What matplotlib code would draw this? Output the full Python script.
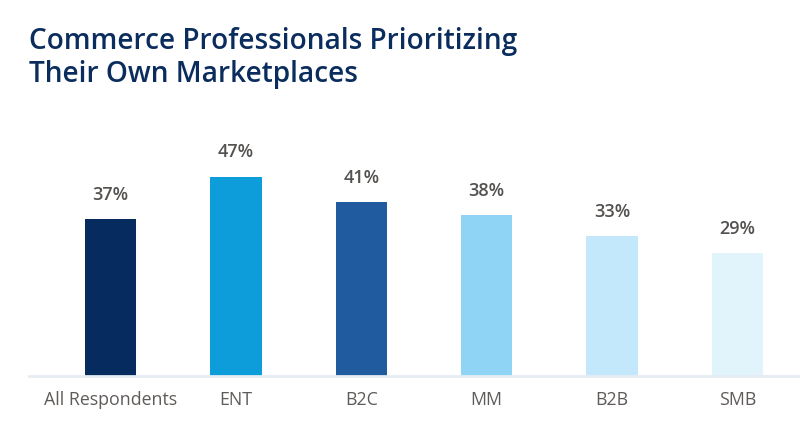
import matplotlib
matplotlib.use("Agg")
import matplotlib.pyplot as plt

categories = ["All Respondents", "ENT", "B2C", "MM", "B2B", "SMB"]
values = [37, 47, 41, 38, 33, 29]
labels = ["37%", "47%", "41%", "38%", "33%", "29%"]
colors = ["#062c5f", "#0e9ddb", "#1f5b9e", "#8fd3f5", "#c3e7fb", "#e1f4fc"]

plt.rcParams['font.family'] = ['Open Sans', 'DejaVu Sans']

fig = plt.figure(figsize=(8, 4.33), dpi=100)
ax = fig.add_axes([29/800, 1 - 376/433, 771/800, (376 - 121.6)/433])

x = list(range(len(categories)))
ax.bar(x, values, width=0.41, color=colors, zorder=2)
for xi, v, lab in zip(x, values, labels):
    ax.annotate(lab, (xi, v), xytext=(0, 11), textcoords="offset points",
                ha="center", va="bottom", fontsize=13, fontweight="semibold",
                color="#54514f")

ax.set_xlim(-0.65, 5.5)
ax.set_ylim(0, 60)
ax.set_xticks(x)
ax.set_xticklabels(categories, fontsize=12.8, color="#5f5b59")
ax.tick_params(axis="x", length=0, pad=11)
ax.set_yticks([])
for s in ["top", "right", "left"]:
    ax.spines[s].set_visible(False)
ax.spines["bottom"].set_color("#e6ecf2")
ax.spines["bottom"].set_linewidth(2)

fig.text(29/800, 1 - 58/433, "Commerce Professionals Prioritizing\nTheir Own Marketplaces",
         fontsize=20.2, fontweight="semibold", color="#0b2d5e", ha="left", va="center",
         linespacing=1.2)

fig.savefig("out.png", dpi=100)
